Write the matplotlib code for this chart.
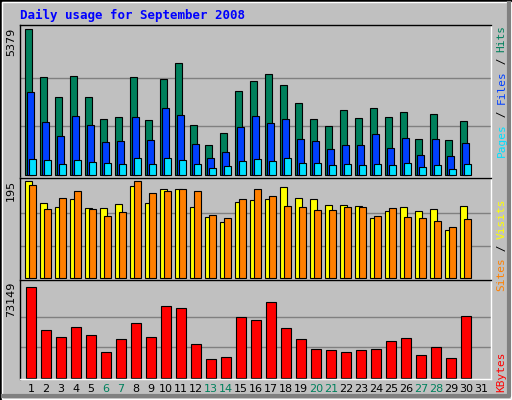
import numpy as np
import matplotlib.pyplot as plt
from matplotlib.patches import Rectangle

# ── DATA ────────────────────────────────────────────────────────────
days = list(range(1, 32))
hits = [5379, 3627, 2860, 3663, 2860, 2057, 2130, 3627, 2020, 3554, 4138, 1838, 1107, 1546, 3115,
        3481, 3736, 3334, 2641, 2057, 1801, 2385, 2093, 2458, 2130, 2312, 1327, 2239, 1290, 1984]
files = [3079, 1947, 1436, 2166, 1838, 1217, 1254, 2130, 1290, 2458, 2203, 1144, 633, 852, 1765,
         2166, 1911, 2057, 1327, 1254, 961, 1107, 1107, 1509, 998, 1363, 742, 1327, 706, 1180]
pages = [596, 560, 414, 560, 487, 450, 414, 633, 414, 633, 560, 414, 268, 341, 523,
         596, 523, 633, 450, 450, 377, 414, 377, 414, 377, 450, 304, 377, 231, 414]
sites = [195, 151, 142, 159, 140, 140, 149, 184, 151, 178, 178, 142, 123, 113, 153,
         157, 159, 182, 161, 159, 146, 146, 144, 121, 134, 142, 134, 138, 96, 144]
visits = [187, 138, 161, 174, 138, 125, 132, 195, 170, 174, 178, 174, 127, 121, 159,
          178, 165, 144, 142, 136, 136, 142, 142, 125, 140, 123, 121, 115, 102, 119]
kbytes = [73149, 38711, 33104, 41113, 34706, 20290, 31502, 44317, 33104, 57932, 56330, 27498, 14683, 16285, 49122,
          46719, 61136, 40312, 31502, 23493, 22692, 20290, 22692, 23493, 29900, 32303, 17887, 25095, 15484, 49923]
weekends = [6, 7, 13, 14, 20, 21, 27, 28]
# ────────────────────────────────────────────────────────────────────

W, H = 512, 400
BG = "#c0c0c0"
MONO = "DejaVu Sans Mono"

fig = plt.figure(figsize=(W / 100, H / 100), dpi=100)
fig.patch.set_facecolor(BG)


def make_ax(y0, y1):
    # pixel coords (top-down) -> figure fraction
    ax = fig.add_axes([20 / W, 1 - y1 / H, 471 / W, (y1 - y0) / H])
    ax.set_facecolor(BG)
    ax.set_xlim(-1 / 3, 31.07)
    ax.set_xticks([])
    ax.set_yticks([])
    for s in ax.spines.values():
        s.set_color("black")
        s.set_linewidth(1)
    ax.spines["right"].set_color("white")
    ax.spines["bottom"].set_color("white")
    return ax


def grid(ax, vmax):
    for f in (1 / 3, 2 / 3):
        ax.axhline(vmax * f, color="#808080", lw=1, zorder=0)


x = np.arange(len(hits))
kw = dict(align="edge", edgecolor="black", linewidth=0.8)

# top panel: hits / files / pages
ax1 = make_ax(25, 178)
ax1.set_ylim(-120, max(hits) * 1.03)
grid(ax1, max(hits))
ax1.bar(x, hits, 7 / 15, color="#00805c", **kw)
ax1.bar(x + 2.3 / 15, files, 7 / 15, color="#0040ff", **kw)
ax1.bar(x + 4.3 / 15, pages, 7 / 15, color="#00e0ff", **kw)

# middle panel: sites / visits
ax2 = make_ax(178, 280)
ax2.set_ylim(-3, max(sites) * 1.03)
grid(ax2, max(sites))
ax2.bar(x, sites, 7 / 15, color="#ffff00", **kw)
ax2.bar(x + 4 / 15, visits, 7 / 15, color="#ff8000", **kw)

# bottom panel: kbytes
ax3 = make_ax(280, 379)
ax3.set_ylim(-1200, max(kbytes) * 1.08)
grid(ax3, max(kbytes))
ax3.bar(x + 1.3 / 15, kbytes, 10 / 15, color="#ff0000", **kw)

# max labels on left
for ax, v in ((ax1, max(hits)), (ax2, max(sites)), (ax3, max(kbytes))):
    ax.text(-0.008, 0.985, str(v), transform=ax.transAxes, rotation=90, ha="right", va="top",
            fontsize=8, family="DejaVu Sans", color="black")


# right-side legends
def side_label(ax, parts, y_top):
    y = y_top
    for txt, col in parts:
        ax.text(1.012, y, txt, transform=ax.transAxes, rotation=90, ha="left", va="top",
                fontsize=8, family=MONO, color=col)
        y -= len(txt) * 0.6 * 8 / (ax.get_position().height * H) * (100 / 72) * 0.98


side_label(ax1, [("Hits", "#00805c"), (" / ", "black"), ("Files", "#0040ff"),
                 (" / ", "black"), ("Pages", "#00e0ff")], 1.0)
side_label(ax2, [("Visits", "#ffff00"), (" / ", "black"), ("Sites", "#ff8000")], 0.8)
side_label(ax3, [("KBytes", "#ff0000")], 0.28)

# day labels
for d in days:
    fig.text((20 + (d - 1) * 15 + 33 / 3 + 1 / 3 * 15 - 5) / W, 1 - 389 / H, str(d), ha="center", va="center",
             fontsize=8, family="DejaVu Sans",
             color="#00805c" if d in weekends else "black")

fig.text(20 / W, 1 - 15 / H, "Daily usage for September 2008", ha="left", va="center",
         fontsize=9, family=MONO, weight="bold", color="#0000ff")

# outer bevel
fig.add_artist(Rectangle((0, 0), 1, 1, transform=fig.transFigure, fill=False,
                         edgecolor="black", linewidth=2))
fig.add_artist(Rectangle((1.5 / W, 1.5 / H), 1 - 3 / W, 1 - 3 / H, transform=fig.transFigure, fill=False,
                         edgecolor="white", linewidth=1))
fig.add_artist(plt.Line2D([3 / W, 1 - 3 / W, 1 - 3 / W], [4 / H, 4 / H, 1 - 3 / H],
                          transform=fig.transFigure, color="#808080", linewidth=3))

fig.savefig("out.png", dpi=100, facecolor=BG)
